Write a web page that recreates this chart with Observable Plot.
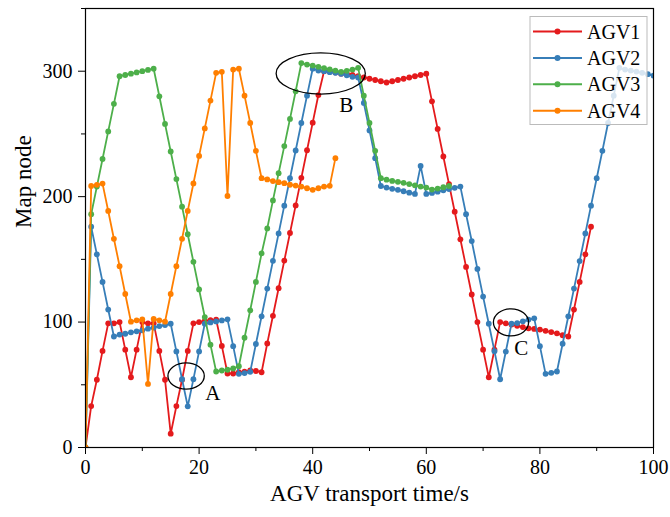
<!DOCTYPE html>
<html><head><meta charset="utf-8">
<script src="https://cdn.jsdelivr.net/npm/d3@7"></script>
<script src="https://cdn.jsdelivr.net/npm/@observablehq/plot@0.6"></script>
<style>
body{margin:0;background:#fff}
#chart{width:670px;height:517px}
</style>
</head><body><div id="chart"></div>
<script>
// Values read per second (index = time in s)
const agv1 = [0,33,54,77,99,99,100,78,56,78,100,99,99,77,54,11,33,54,77,99,
  100,101,101.5,102,81,59,59,60,60.5,61.5,61,60,83,105,127,149,171,193,215,237,
  259,281,300,300,299,298,298,297,296,295,294,293,292,291,292,293,294,295,296,297,
  298,276,254,232,210,188,166,144,122,100,78,56,78,100,99,98,97,96,95,94.5,
  94,93,92,91,89.5,88.5,110,132,154,176];
const agv2 = [0,176,154,132,110,88.5,90,90.7,91.8,92.6,93.4,94.7,95.5,96.8,97.6,98.7,76.6,54.4,32.8,54.5,
  76.6,98.7,99.7,100.5,101.3,102.2,80.8,58.7,59.3,60.3,82.5,104.6,126.7,148.8,170.7,192.8,214.7,236.8,258.7,280.5,
  302,300.5,300,299.2,298.7,297.9,296.8,295.5,295,274.7,252.8,230.7,208.5,207.2,206.2,205.4,204.3,203.2,202.2,224.5,
  202.2,203,204,205,206,207,208,186,164.6,142.4,120.3,98.7,76.8,54.4,76.5,98.7,99.2,100.6,102,103,
  80.8,58.7,59.5,60.6,82.7,104.6,126.7,148.6,170.7,192.8,214.7,236.5,258.7,280.5,302.7,301.3,300.5,299.7,298.7,297.6,
  296.5];
const agv3 = [0,186,208,230,252,274,296,297,298,299,300,301,302,280,258,236,214,192,170,148,
  126,104,82,60.6,61.4,62,63,64.8,87.5,109.4,132,154.7,174.7,197,218.7,240.3,262,284,306.5,305.3,
  304.5,303.5,302.5,301.5,300.5,299.5,300.3,301.3,302.7,280.5,258.7,236.5,214.7,213.5,212.5,211.8,211,210,209,208,
  207.2,205.6,206.4,207.5,208.5];
const agv4 = [0,208.5,209.4,210.4,188.6,166.4,144.6,122.4,100.3,101.4,102.1,50.7,102.5,101.4,100.3,122.4,144.6,166.4,188.6,210.5,
  232.5,254.4,276.6,298.7,299.5,200.5,301.3,302,280.5,258.7,236.5,214.7,213.7,212.4,211.5,210.7,209.5,208.8,208,206.7,
  205.4,206.7,208,208.6,230.7];

const seriesNames = ["AGV1","AGV2","AGV3","AGV4"];
const seriesValues = [agv1, agv2, agv3, agv4];
const seriesColors = ["#e41a1c","#377eb8","#4daf4a","#ff7f00"];

const xMajor = [0,20,40,60,80,100];
const xMinor = [10,30,50,70,90];
const yMajor = [0,100,200,300];
const yMinor = [50,150,250,350];

const xTitle = "AGV transport time/s";
const yTitle = "Map node";

// Annotations (data units)
const noteLabels = ["A","B","C"];
const noteX = [22.4, 45.9, 76.7];
const noteY = [43.5, 273, 79];
const ellCx = [17.8, 41.5, 75.0];
const ellCy = [56.6, 297.8, 99.4];
const ellRx = [3.2, 7.85, 3.1];
const ellRy = [10.4, 16.4, 10.8];

const rows = seriesNames.map((name, s) => seriesValues[s].map((v, i) => ({t: i, node: v, agv: name})));
const notes = noteLabels.map((l, i) => ({label: l, x: noteX[i], y: noteY[i]}));
const ells = noteLabels.map((l, i) => ({cx: ellCx[i], cy: ellCy[i], rx: ellRx[i], ry: ellRy[i]}));

const font = "'Liberation Serif','Times New Roman',serif";

function ellipseMark(index, scales) {
  const g = d3.create("svg:g");
  for (const e of ells) {
    const x0 = scales.x(e.cx), y0 = scales.y(e.cy);
    g.append("ellipse")
      .attr("cx", x0).attr("cy", y0)
      .attr("rx", Math.abs(scales.x(e.cx + e.rx) - x0))
      .attr("ry", Math.abs(scales.y(e.cy + e.ry) - y0))
      .attr("fill", "none").attr("stroke", "#000").attr("stroke-width", 1.3);
  }
  return g.node();
}

function legendMark(index, scales, values, dimensions) {
  const {width, marginRight, marginTop} = dimensions;
  const bw = 117, bh = 108;
  const bx = width - marginRight - 6 - bw, by = marginTop + 8.5;
  const g = d3.create("svg:g");
  g.append("rect").attr("x", bx).attr("y", by).attr("width", bw).attr("height", bh)
    .attr("fill", "#fff").attr("fill-opacity", 0.8).attr("stroke", "#bbb").attr("stroke-width", 1);
  seriesNames.forEach((name, i) => {
    const yy = by + 15 + i * 26.4;
    g.append("line").attr("x1", bx + 3).attr("x2", bx + 52).attr("y1", yy).attr("y2", yy)
      .attr("stroke", seriesColors[i]).attr("stroke-width", 2);
    g.append("circle").attr("cx", bx + 27.5).attr("cy", yy).attr("r", 3).attr("fill", seriesColors[i]);
    g.append("text").attr("x", bx + 57).attr("y", yy).attr("dy", "0.35em")
      .attr("text-anchor", "start")
      .attr("font-size", 20).attr("fill", "#000").style("font-family", font).text(name);
  });
  return g.node();
}

const seriesMarks = [];
rows.forEach((r, s) => {
  seriesMarks.push(Plot.line(r, {x: "t", y: "node", stroke: "agv", strokeWidth: 1.8, clip: true}));
  seriesMarks.push(Plot.dot(r, {x: "t", y: "node", fill: "agv", r: 2.9, clip: true}));
});

const chart = Plot.plot({
  width: 670,
  height: 517,
  marginLeft: 85,
  marginRight: 17,
  marginTop: 8,
  marginBottom: 70,
  style: {fontFamily: font, fontSize: "20px", background: "#fff", color: "#000"},
  x: {domain: [0, 100], axis: null},
  y: {domain: [0, 350], axis: null},
  color: {domain: seriesNames, range: seriesColors},
  marks: [
    Plot.axisX({ticks: xMajor, tickSize: 7, tickPadding: 5, label: null, fontSize: 20}),
    Plot.axisX({ticks: xMinor, tickSize: 4, tickFormat: () => "", label: null}),
    Plot.axisY({ticks: yMajor, tickSize: 7, tickPadding: 6, label: null, fontSize: 20}),
    Plot.axisY({ticks: yMinor, tickSize: 4, tickFormat: () => "", label: null}),
    ...seriesMarks,
    ellipseMark,
    Plot.text(notes, {x: "x", y: "y", text: "label", fontSize: 21, fill: "#000"}),
    Plot.frame({stroke: "#000", strokeWidth: 1.2}),
    Plot.text([xTitle], {frameAnchor: "bottom", dy: 53, fontSize: 23, fill: "#000"}),
    Plot.text([yTitle], {frameAnchor: "left", dx: -62, rotate: -90, fontSize: 23, fill: "#000"}),
    legendMark
  ]
});
document.getElementById("chart").appendChild(chart);
</script>
</body></html>
